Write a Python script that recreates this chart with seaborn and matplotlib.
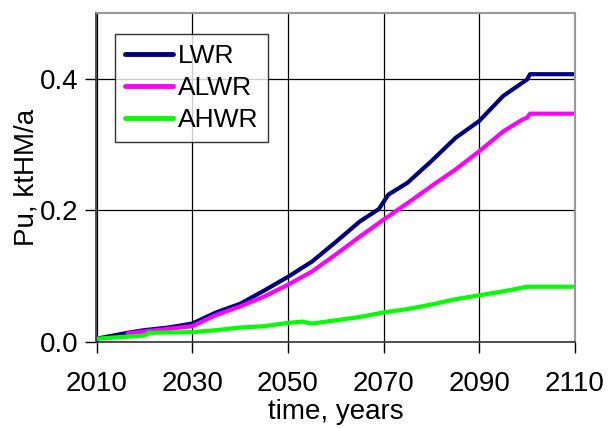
import matplotlib
matplotlib.use("Agg")
import matplotlib.pyplot as plt
import seaborn as sns
import pandas as pd

# Annual plutonium output per reactor type, ktHM/a
lwr_years = [2010, 2016.5, 2020, 2025, 2030, 2035, 2040, 2045, 2050, 2055, 2060,
             2065, 2069, 2071, 2075, 2080, 2085, 2090, 2095, 2100, 2100.6, 2110]
lwr_pu = [0.005, 0.014, 0.018, 0.022, 0.028, 0.045, 0.058, 0.078, 0.099, 0.122, 0.152,
          0.183, 0.202, 0.224, 0.242, 0.275, 0.310, 0.336, 0.374, 0.399, 0.407, 0.407]

alwr_years = [2016.5, 2020, 2025, 2030, 2035, 2040, 2045, 2050, 2055, 2060, 2065,
              2070, 2075, 2080, 2085, 2090, 2095, 2099, 2100, 2100.6, 2110]
alwr_pu = [0.013, 0.016, 0.020, 0.024, 0.041, 0.054, 0.069, 0.087, 0.107, 0.133, 0.160,
           0.186, 0.211, 0.237, 0.262, 0.290, 0.320, 0.338, 0.341, 0.347, 0.347]

ahwr_years = [2010, 2020, 2021, 2030, 2035, 2040, 2045, 2050, 2053, 2055, 2060, 2065,
              2070, 2075, 2080, 2085, 2090, 2095, 2100, 2110]
ahwr_pu = [0.005, 0.010, 0.014, 0.015, 0.018, 0.022, 0.024, 0.029, 0.031, 0.028, 0.033,
           0.038, 0.045, 0.050, 0.057, 0.065, 0.071, 0.077, 0.084, 0.084]

series_names = ["LWR", "ALWR", "AHWR"]
series_colors = ["#000080", "#FF00FF", "#00FF00"]

x_ticks = [2010, 2030, 2050, 2070, 2090, 2110]
y_ticks = [0.0, 0.2, 0.4]

frames = []
for name, yrs, vals in zip(series_names,
                           [lwr_years, alwr_years, ahwr_years],
                           [lwr_pu, alwr_pu, ahwr_pu]):
    frames.append(pd.DataFrame({"year": yrs, "pu": vals, "reactor": name}))
data = pd.concat(frames, ignore_index=True)

sns.set_theme(style="white")
plt.rcParams["font.family"] = ["Liberation Sans", "DejaVu Sans"]
plt.rcParams["text.color"] = "black"
plt.rcParams["axes.labelcolor"] = "black"

fig = plt.figure(figsize=(6.08, 4.28), dpi=100)
ax = fig.add_axes([96.5 / 608, 1 - 342 / 428, (575 - 96.5) / 608, (342 - 13) / 428])

sns.lineplot(data=data, x="year", y="pu", hue="reactor", hue_order=series_names,
             palette=dict(zip(series_names, series_colors)), linewidth=3,
             ax=ax, legend=True)

ax.set_xlim(2010, 2110)
ax.set_ylim(0, 0.5)
ax.set_xticks(x_ticks)
ax.set_yticks(y_ticks)
ax.set_yticklabels([f"{v:.1f}" for v in y_ticks])
ax.tick_params(axis="both", labelsize=20, length=8, width=1, color="black",
               direction="out", colors="black", bottom=True, left=True)
ax.tick_params(axis="x", pad=13)
ax.tick_params(axis="y", pad=5)
ax.grid(True, color="black", linewidth=0.9)
ax.set_axisbelow(True)

for side in ["left", "bottom"]:
    ax.spines[side].set_color("#333333")
    ax.spines[side].set_linewidth(1.2)
for side in ["top", "right"]:
    ax.spines[side].set_color("#999999")
    ax.spines[side].set_linewidth(1.5)

ax.set_xlabel("time, years", fontsize=20, labelpad=1)
ax.set_ylabel("Pu, ktHM/a", fontsize=20, labelpad=0)

leg = ax.legend(loc="upper left", bbox_to_anchor=(0.039, 0.936), borderaxespad=0,
                fontsize=19, handlelength=1.8, handletextpad=0.2, labelspacing=0.3,
                borderpad=0.38, frameon=True, fancybox=False)
leg.get_frame().set_edgecolor("black")
leg.get_frame().set_linewidth(1.0)
for line in leg.get_lines():
    line.set_linewidth(3.5)

fig.savefig("out.png", dpi=100)
